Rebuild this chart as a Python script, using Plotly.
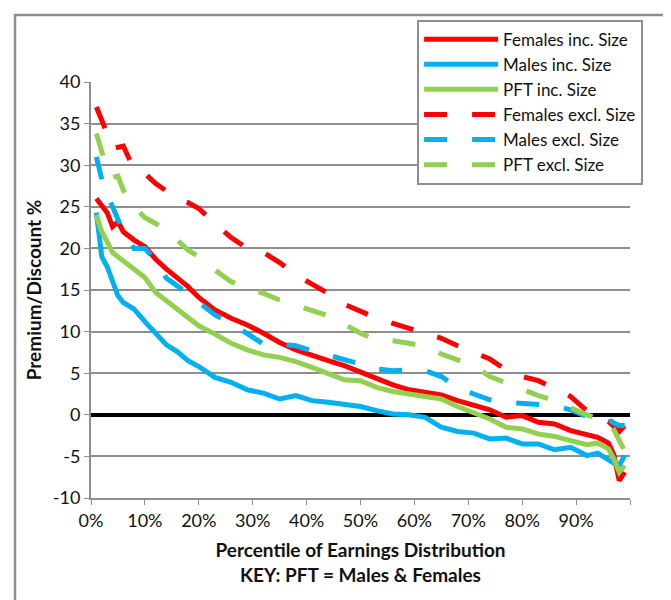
import plotly.graph_objects as go

# percentile points (x axis, in %)
PCTL = [1, 2, 3, 4, 5, 6, 8, 10, 12, 14, 16, 18, 20, 23, 26, 29, 32, 35, 38, 41,
        44, 47, 50, 53, 56, 59, 62, 65, 68, 71, 74, 77, 80, 83, 86, 89, 92, 94,
        96, 97, 98, 99]

females_inc = [26.0, 25.2, 24.3, 22.6, 23.2, 22.0, 21.0, 20.2, 18.7, 17.5, 16.5,
               15.4, 14.1, 12.6, 11.6, 10.8, 9.8, 8.7, 7.8, 7.1, 6.5, 5.9, 5.1,
               4.3, 3.6, 3.0, 2.7, 2.4, 1.7, 1.2, 0.6, -0.3, -0.1, -0.9, -1.1,
               -1.9, -2.3, -2.7, -3.4, -4.8, -7.9, -6.9]
males_inc = [24.3, 19.0, 17.8, 16.0, 14.3, 13.5, 12.7, 11.2, 9.8, 8.4, 7.6, 6.5,
             5.8, 4.5, 3.9, 3.0, 2.6, 1.9, 2.3, 1.7, 1.5, 1.3, 1.0, 0.5, 0.1,
             0.0, -0.3, -1.5, -2.0, -2.2, -2.9, -2.8, -3.5, -3.5, -4.2, -3.9,
             -4.9, -4.6, -5.5, -5.8, -6.1, -4.9]
pft_inc = [24.0, 22.0, 20.8, 19.5, 19.0, 18.5, 17.6, 16.5, 14.7, 13.7, 12.7, 11.7,
           10.7, 9.7, 8.6, 7.8, 7.2, 6.9, 6.4, 5.7, 4.9, 4.2, 4.1, 3.3, 2.8, 2.5,
           2.2, 1.9, 1.0, 0.3, -0.5, -1.5, -1.7, -2.3, -2.6, -3.1, -3.6, -3.4,
           -4.1, -5.3, -6.9, -6.1]
females_excl = [37.0, 35.5, 33.8, 32.0, 32.2, 32.3, 29.5, 29.0, 27.8, 26.9, 26.0,
                25.5, 24.8, 23.0, 21.3, 20.0, 19.5, 18.3, 16.8, 15.7, 14.6, 13.3,
                12.4, 11.6, 11.0, 10.4, 9.8, 9.2, 8.3, 7.5, 6.7, 5.4, 4.6, 4.1,
                3.1, 2.2, 0.5, -0.3, -0.8, -1.5, -2.0, -1.3]
males_excl = [31.0, 28.3, 26.5, 25.0, 23.5, 22.0, 20.0, 20.0, 18.5, 16.4, 15.5,
              14.5, 13.4, 12.0, 11.0, 9.8, 8.5, 8.5, 8.3, 7.7, 7.2, 6.7, 6.1, 5.5,
              5.3, 5.4, 5.3, 4.6, 3.3, 2.5, 1.8, 1.5, 1.4, 1.3, 1.1, 0.6, -0.2,
              -0.2, -0.5, -1.0, -1.3, -1.3]
pft_excl = [33.8, 31.5, 29.5, 28.5, 28.7, 27.0, 25.0, 23.7, 23.0, 22.0, 21.0, 19.8,
            19.0, 17.4, 16.0, 15.2, 14.6, 13.8, 13.2, 12.5, 11.9, 10.9, 9.8, 9.0,
            8.9, 8.6, 8.2, 7.3, 6.6, 5.9, 4.6, 3.8, 3.0, 2.3, 1.7, 0.8, 0.0, -0.4,
            -0.8, -1.8, -3.0, -4.3]

X_TICK_VALS = [0, 10, 20, 30, 40, 50, 60, 70, 80, 90, 100]
X_TICK_TEXT = ["0%", "10%", "20%", "30%", "40%", "50%", "60%", "70%", "80%", "90%", ""]
Y_TICK_VALS = [-10, -5, 0, 5, 10, 15, 20, 25, 30, 35, 40]
Y_TICK_TEXT = ["-10", "-5", "0", "5", "10", "15", "20", "25", "30", "35", "40"]

RED, BLUE, GREEN = "#FF0000", "#00B0F0", "#92D050"
GRID = "#8E8E8E"
FONT = "Lato, 'Open Sans', sans-serif"
DASH = "23px,25px"

series = [
    ("Females inc. Size", females_inc, RED, "solid"),
    ("Males inc. Size", males_inc, BLUE, "solid"),
    ("PFT inc. Size", pft_inc, GREEN, "solid"),
    ("Females excl. Size", females_excl, RED, DASH),
    ("Males excl. Size", males_excl, BLUE, DASH),
    ("PFT excl. Size", pft_excl, GREEN, DASH),
]

fig = go.Figure()
for name, vals, color, dash in series:
    fig.add_trace(go.Scatter(
        x=PCTL, y=vals, name=name, mode="lines",
        line=dict(color=color, width=5, dash=dash),
    ))

# page has an 8px body margin, so the figure is sized a bit smaller
fig.update_layout(
    width=663, height=592,
    margin=dict(l=83, r=41, t=68, b=102),
    paper_bgcolor="white", plot_bgcolor="white",
    font=dict(family=FONT, size=18, color="#111"),
    showlegend=True,
    legend=dict(
        x=0.605, y=1.15, xanchor="left", yanchor="top",
        bgcolor="white", bordercolor=GRID, borderwidth=2,
        font=dict(size=17), itemwidth=74, tracegroupgap=0,
    ),
    xaxis=dict(
        range=[0, 100], tickvals=X_TICK_VALS, ticktext=X_TICK_TEXT,
        showgrid=False, showline=True, linecolor=GRID, linewidth=2,
        ticks="outside", ticklen=5, tickcolor=GRID, zeroline=False,
        automargin=False,
        title=dict(text="<b>Percentile of Earnings Distribution</b><br><b>KEY: PFT = Males & Females</b>",
                   font=dict(size=19), standoff=14),
    ),
    yaxis=dict(
        range=[-10, 40], tickvals=Y_TICK_VALS, ticktext=Y_TICK_TEXT,
        showgrid=True, gridcolor=GRID, gridwidth=1.5,
        showline=True, linecolor=GRID, linewidth=2,
        ticks="outside", ticklen=5, tickcolor=GRID,
        zeroline=True, zerolinecolor="black", zerolinewidth=4,
        automargin=False,
        title=dict(text="<b>Premium/Discount %</b>", font=dict(size=19), standoff=6),
    ),
    shapes=[dict(
        type="rect", xref="paper", yref="paper",
        x0=-0.141, x1=1.076, y0=-0.3, y1=1.161,
        line=dict(color=GRID, width=2.5), fillcolor="rgba(0,0,0,0)",
    )],
)

fig.write_html("out.html")
